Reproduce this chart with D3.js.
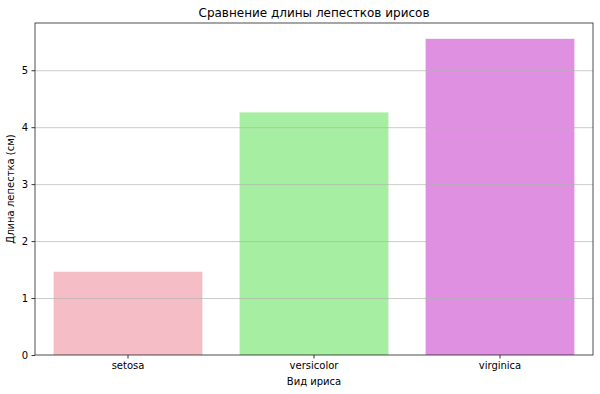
<!DOCTYPE html>
<html>
<head>
<meta charset="utf-8">
<script src="https://cdn.jsdelivr.net/npm/d3@7"></script>
<style>
  body { margin: 0; background: #fff; }
  svg text { font-family: "DejaVu Sans", sans-serif; fill: #000; }
</style>
</head>
<body>
<div id="chart"></div>
<script>
var species = ["setosa", "versicolor", "virginica"];
var petalLength = [1.462, 4.26, 5.552];
var barColors = ["#F5BEC7", "#A6EFA2", "#E090E0"];
var yTicks = [0, 1, 2, 3, 4, 5];

var margin = { top: 23, right: 7, bottom: 39, left: 35 },
    width = 600 - margin.left - margin.right,
    height = 394 - margin.top - margin.bottom;

var svg = d3.select("#chart").append("svg")
    .attr("width", 600).attr("height", 394)
  .append("g")
    .attr("transform", "translate(" + margin.left + "," + margin.top + ")");

var xScale = d3.scaleBand().range([0, width]).domain(species).paddingInner(0.2).paddingOuter(0.1);
var yScale = d3.scaleLinear().range([height, 0]).domain([0, d3.max(petalLength) * 1.05]);

// bars
svg.selectAll(".bar")
    .data(species)
  .enter().append("rect")
    .attr("x", function(d) { return xScale(d); })
    .attr("width", xScale.bandwidth())
    .attr("y", function(d, i) { return yScale(petalLength[i]); })
    .attr("height", function(d, i) { return height - yScale(petalLength[i]); })
    .attr("fill", function(d, i) { return barColors[i]; });

// grid over bars
svg.append("g")
    .call(d3.axisLeft(yScale).tickValues(yTicks.slice(1)).tickSize(-width).tickFormat(""))
    .call(function(g) { g.select(".domain").remove(); })
    .selectAll("line")
    .attr("stroke", "#b0b0b0").attr("stroke-opacity", 0.85).attr("stroke-width", 0.8);

// axes
var yAxis = svg.append("g")
    .call(d3.axisLeft(yScale).tickValues(yTicks).tickFormat(d3.format("d")).tickSize(3.5).tickPadding(3.5));
var xAxis = svg.append("g")
    .attr("transform", "translate(0," + height + ")")
    .call(d3.axisBottom(xScale).tickSize(3.5).tickPadding(3.5));

[yAxis, xAxis].forEach(function(a) {
  a.select(".domain").remove();
  a.selectAll("text").style("font-size", "10px");
  a.selectAll("line").attr("stroke", "#000").attr("stroke-width", 0.8);
});

// frame
svg.append("rect")
    .attr("width", width).attr("height", height)
    .attr("fill", "none").attr("stroke", "#222").attr("stroke-width", 0.8);

svg.append("text")
    .attr("x", width / 2).attr("y", -6)
    .attr("text-anchor", "middle").style("font-size", "12px")
    .text("Сравнение длины лепестков ирисов");

svg.append("text")
    .attr("x", width / 2).attr("y", height + 30)
    .attr("text-anchor", "middle").style("font-size", "10px")
    .text("Вид ириса");

svg.append("text")
    .attr("transform", "translate(-21," + (height / 2) + ") rotate(-90)")
    .attr("text-anchor", "middle").style("font-size", "10px")
    .text("Длина лепестка (см)");
</script>
</body>
</html>
